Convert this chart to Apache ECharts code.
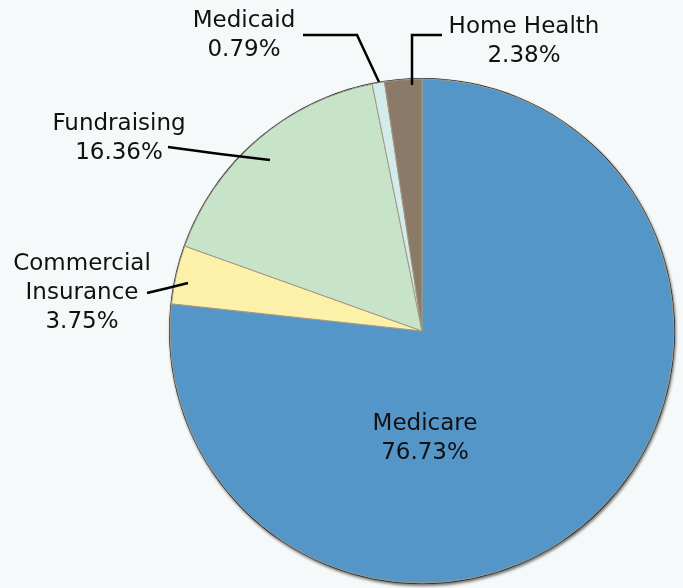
<!DOCTYPE html>
<html>
<head>
<meta charset="utf-8">
<script src="https://cdn.jsdelivr.net/npm/echarts@6/dist/echarts.min.js"></script>
<style>
html,body{margin:0;padding:0;background:#f6f9f9;}
#chart{width:683px;height:588px;}
</style>
</head>
<body>
<div id="chart"></div>
<script>
var categories = ['Medicare', 'Commercial Insurance', 'Fundraising', 'Medicaid', 'Home Health'];
var labelNames = ['Medicare', 'Commercial\nInsurance', 'Fundraising', 'Medicaid', 'Home Health'];
var values = [76.73, 3.75, 16.36, 0.79, 2.38];
var colors = ['#5596c8', '#fdf0a8', '#c8e4c8', '#d4ebeb', '#8b7a68'];

// label anchor positions and leader lines (layout only)
var labelPos = [
  {x: 425, y: 439, line: null},
  {x: 82, y: 293, line: [[188, 283], [168, 288], [147, 293]]},
  {x: 119, y: 139, line: [[270, 160], [220, 154], [168, 147]]},
  {x: 244, y: 36, line: [[379, 82], [357, 35], [303, 35]]},
  {x: 524, y: 42, line: [[412, 85], [412, 35], [442, 35]]}
];

var chart = echarts.init(document.getElementById('chart'));

function buildData(withLabels) {
  return categories.map(function (c, i) {
    var item = {
      name: c,
      value: values[i],
      itemStyle: withLabels ? {color: 'rgba(0,0,0,0)', borderWidth: 0} : {color: colors[i]}
    };
    if (withLabels) {
      item.label = {formatter: labelNames[i] + '\n' + values[i].toFixed(2) + '%'};
      if (i === 0) {
        item.label.position = 'inside';
        item.labelLine = {show: false};
      }
    }
    return item;
  });
}

var center = [422, 331];

chart.setOption({
  backgroundColor: '#f6f9f9',
  animation: false,
  series: [
    {
      type: 'pie',
      silent: true,
      center: center,
      radius: 253,
      z: 1,
      label: {show: false},
      labelLine: {show: false},
      data: [{value: 1, itemStyle: {color: '#1c2a36', shadowColor: 'rgba(0,0,0,0.55)', shadowBlur: 3, shadowOffsetX: 1, shadowOffsetY: 2}}]
    },
    {
      type: 'pie',
      silent: true,
      center: center,
      radius: 252,
      startAngle: 90,
      clockwise: true,
      z: 2,
      itemStyle: {borderColor: '#a39a86', borderWidth: 1},
      label: {show: false},
      labelLine: {show: false},
      data: buildData(false)
    },
    {
      type: 'pie',
      silent: true,
      center: center,
      radius: 252,
      startAngle: 90,
      clockwise: true,
      z: 3,
      label: {
        show: true,
        position: 'outside',
        fontFamily: 'DejaVu Sans',
        fontSize: 23,
        lineHeight: 29,
        color: '#111',
        align: 'center',
        overflow: 'none',
        alignTo: 'none'
      },
      labelLine: {show: true, lineStyle: {color: '#000', width: 2.5}},
      labelLayout: function (params) {
        var p = labelPos[params.dataIndex];
        var r = {x: p.x, y: p.y, align: 'center', verticalAlign: 'middle'};
        if (p.line) r.labelLinePoints = p.line;
        return r;
      },
      data: buildData(true)
    }
  ]
});
</script>
</body>
</html>
